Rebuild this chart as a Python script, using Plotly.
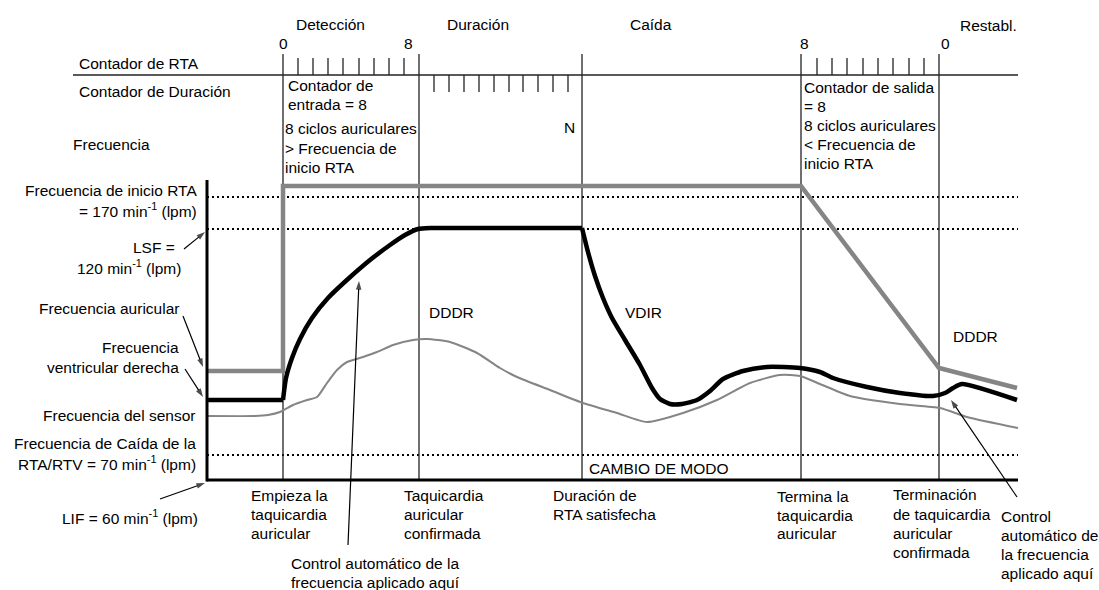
import plotly.graph_objects as go

# ---------------- data (schematic chart units: time -> x, rate display level -> y) -------------
# Atrial rate (thick gray)
atrial_t = [207, 283, 283, 801, 939, 1017]
atrial_v = [371, 371, 186, 186, 368, 388]

# Right ventricular rate (thick black), split in segments
rv_flat1_t = [207, 283]
rv_flat1_v = [400, 400]
rv_rise_t = [283, 286, 292, 300, 312, 328, 348, 370, 390, 405, 418, 430]
rv_rise_v = [400, 378, 358, 339, 318, 298, 279, 260, 245, 235, 229, 228]
rv_flat2_t = [430, 582]
rv_flat2_v = [228, 228]
rv_fall_t = [582, 588, 595, 603, 612, 625, 640, 652, 660, 670, 682, 697, 710, 723, 743, 767,
             800, 820, 833, 867, 900, 933, 945, 953, 962, 1017]
rv_fall_v = [228, 252, 276, 298, 318, 340, 365, 388, 399, 404, 404, 400, 391, 379, 371, 367,
             368, 372, 378, 387, 393, 396, 393, 388, 384, 400]

# Sensor rate (thin gray)
sensor_t = [207, 255, 268, 280, 293, 307, 317, 327, 337, 347, 363, 377, 393, 413, 427, 450,
            477, 500, 517, 550, 583, 617, 647, 683, 717, 750, 780, 800, 820, 850, 900, 940,
            967, 1018]
sensor_v = [416, 416, 415, 412, 405, 400, 397, 383, 370, 362, 357, 352, 345, 340, 339, 342,
            353, 368, 377, 390, 403, 413, 422, 413, 400, 383, 375, 376, 384, 396, 404, 408,
            417, 428]

# Reference rate levels (dotted lines)
ref_level_v = [197, 229, 455]
ref_start_t, ref_end_t = 207, 1018

# Event times (vertical lines) and frame
event_t = [283, 419, 582, 801, 939]
event_top_v = 54
axis_bottom_v = 480
axis_left_t = 207
axis_top_v = 180
counter_row_v = 75
counter_row_start_t = 73
tick_up_v = 58
tick_down_v = 92

rta_ticks_t = [298, 313, 328, 343, 359, 374, 389, 404]
dur_ticks_t = [434, 449, 464, 479, 494, 509, 523, 538, 553, 568]
exit_ticks_t = [817, 832, 847, 863, 878, 893, 909, 924]

# Texts: (text, x, y, anchor)
labels = [
    ("Detección", 330, 24, "center"),
    ("Duración", 478, 24, "center"),
    ("Caída", 651, 24, "center"),
    ("Restabl.", 988, 25, "center"),
    ("0", 283, 43, "center"),
    ("8", 408, 43, "center"),
    ("8", 804, 43, "center"),
    ("0", 945, 43, "center"),
    ("Contador de RTA", 78, 63, "left"),
    ("Contador de Duración", 78, 91, "left"),
    ("Frecuencia", 72, 144, "left"),
    ("Contador de", 287, 85, "left"),
    ("entrada = 8", 287, 104, "left"),
    ("8 ciclos auriculares", 284, 128, "left"),
    ("> Frecuencia de", 284, 148, "left"),
    ("inicio RTA", 284, 167, "left"),
    ("N", 569, 127, "center"),
    ("Contador de salida", 803, 87, "left"),
    ("= 8", 803, 106, "left"),
    ("8 ciclos auriculares", 803, 125, "left"),
    ("< Frecuencia de", 803, 144, "left"),
    ("inicio RTA", 803, 163, "left"),
    ("Frecuencia de inicio RTA", 198, 190, "right"),
    ("= 170 min<sup>-1</sup> (lpm)", 198, 210, "right"),
    ("LSF =", 176, 247, "right"),
    ("120 min<sup>-1</sup> (lpm)", 182, 267, "right"),
    ("Frecuencia auricular", 180, 308, "right"),
    ("Frecuencia", 180, 347, "right"),
    ("ventricular derecha", 180, 367, "right"),
    ("Frecuencia del sensor", 197, 415, "right"),
    ("Frecuencia de Caída de la", 197, 443, "right"),
    ("RTA/RTV = 70 min<sup>-1</sup> (lpm)", 197, 463, "right"),
    ("LIF = 60 min<sup>-1</sup> (lpm)", 199, 517, "right"),
    ("DDDR", 451, 312, "center"),
    ("VDIR", 643, 312, "center"),
    ("DDDR", 975, 336, "center"),
    ("CAMBIO DE MODO", 588, 468, "left"),
    ("Empieza la", 250, 495, "left"),
    ("taquicardia", 250, 514, "left"),
    ("auricular", 250, 533, "left"),
    ("Taquicardia", 403, 495, "left"),
    ("auricular", 403, 514, "left"),
    ("confirmada", 403, 533, "left"),
    ("Duración de", 552, 495, "left"),
    ("RTA satisfecha", 552, 514, "left"),
    ("Termina la", 776, 496, "left"),
    ("taquicardia", 776, 515, "left"),
    ("auricular", 776, 533, "left"),
    ("Terminación", 892, 494, "left"),
    ("de taquicardia", 892, 514, "left"),
    ("auricular", 892, 533, "left"),
    ("confirmada", 892, 552, "left"),
    ("Control", 1000, 516, "left"),
    ("automático de", 1000, 535, "left"),
    ("la frecuencia", 1000, 554, "left"),
    ("aplicado aquí", 1000, 573, "left"),
    ("Control automático de la", 290, 563, "left"),
    ("frecuencia aplicado aquí", 290, 582, "left"),
]

# Pointer arrows: (tail_x, tail_y, head_x, head_y)
arrows = [
    (184, 249, 205, 232),
    (183, 316, 203, 367),
    (185, 369, 203, 397),
    (160, 499, 205, 483),
    (348, 545, 359, 281),
    (1017, 497, 951, 400),
]

FONT = "Liberation Sans, Arial, Helvetica, sans-serif"

fig = go.Figure()


def segs(pairs):
    xs, ys = [], []
    for (x0, y0, x1, y1) in pairs:
        xs += [x0, x1, None]
        ys += [y0, y1, None]
    return xs, ys


def add_line(xs, ys, color, width, dash="solid", shape="linear"):
    fig.add_trace(go.Scatter(x=xs, y=ys, mode="lines", hoverinfo="skip",
                             line=dict(color=color, width=width, dash=dash, shape=shape,
                                       smoothing=0.6 if shape == "spline" else None)))


# dotted reference lines
xs, ys = segs([(ref_start_t, v, ref_end_t, v) for v in ref_level_v])
add_line(xs, ys, "black", 2, dash="2px,3px")

# event vertical lines
xs, ys = segs([(t, event_top_v, t, axis_bottom_v) for t in event_t])
add_line(xs, ys, "#222222", 1.3)

# counter row horizontal
xs, ys = segs([(counter_row_start_t, counter_row_v, ref_end_t, counter_row_v)])
add_line(xs, ys, "#222222", 1.5)

# ticks
tick_pairs = [(t, tick_up_v, t, counter_row_v) for t in rta_ticks_t + exit_ticks_t]
tick_pairs += [(t, counter_row_v, t, tick_down_v) for t in dur_ticks_t]
xs, ys = segs(tick_pairs)
add_line(xs, ys, "#222222", 1.3)

# sensor curve
add_line(sensor_t, sensor_v, "#858585", 2, shape="spline")

# atrial curve
add_line(atrial_t, atrial_v, "#858585", 4.5)

# ventricular curve
add_line(rv_flat1_t, rv_flat1_v, "black", 4.5)
add_line(rv_rise_t, rv_rise_v, "black", 4.5, shape="spline")
add_line(rv_flat2_t, rv_flat2_v, "black", 4.5)
add_line(rv_fall_t, rv_fall_v, "black", 4.5, shape="spline")

# frame axes
xs, ys = segs([(axis_left_t, axis_top_v, axis_left_t, axis_bottom_v + 1.5),
               (axis_left_t, axis_bottom_v, ref_end_t, axis_bottom_v)])
add_line(xs, ys, "black", 3)

# pointer arrows (line + arrowhead marker oriented along the segment)
for tx, ty, hx, hy in arrows:
    fig.add_trace(go.Scatter(
        x=[tx, hx], y=[ty, hy], mode="lines+markers", hoverinfo="skip",
        line=dict(color="black", width=1.2),
        marker=dict(symbol="arrow", size=[0, 9], angleref="previous", color="black",
                    line=dict(width=0)),
    ))

annotations = []
for text, x, y, anchor in labels:
    annotations.append(dict(text=text, x=x, y=y, xref="x", yref="y", xanchor=anchor,
                            yanchor="middle", showarrow=False, borderpad=0,
                            font=dict(family=FONT, size=15.5, color="black")))

fig.update_layout(
    width=1099, height=590,
    margin=dict(l=0, r=0, t=0, b=0),
    paper_bgcolor="white", plot_bgcolor="white",
    showlegend=False,
    xaxis=dict(range=[0, 1099], visible=False, fixedrange=True),
    yaxis=dict(range=[590, 0], visible=False, fixedrange=True),
    annotations=annotations,
)

fig.write_html("out.html",
               config={"displayModeBar": False, "staticPlot": True},
               post_script="document.body.style.margin='0px';document.body.style.overflow='hidden';")
